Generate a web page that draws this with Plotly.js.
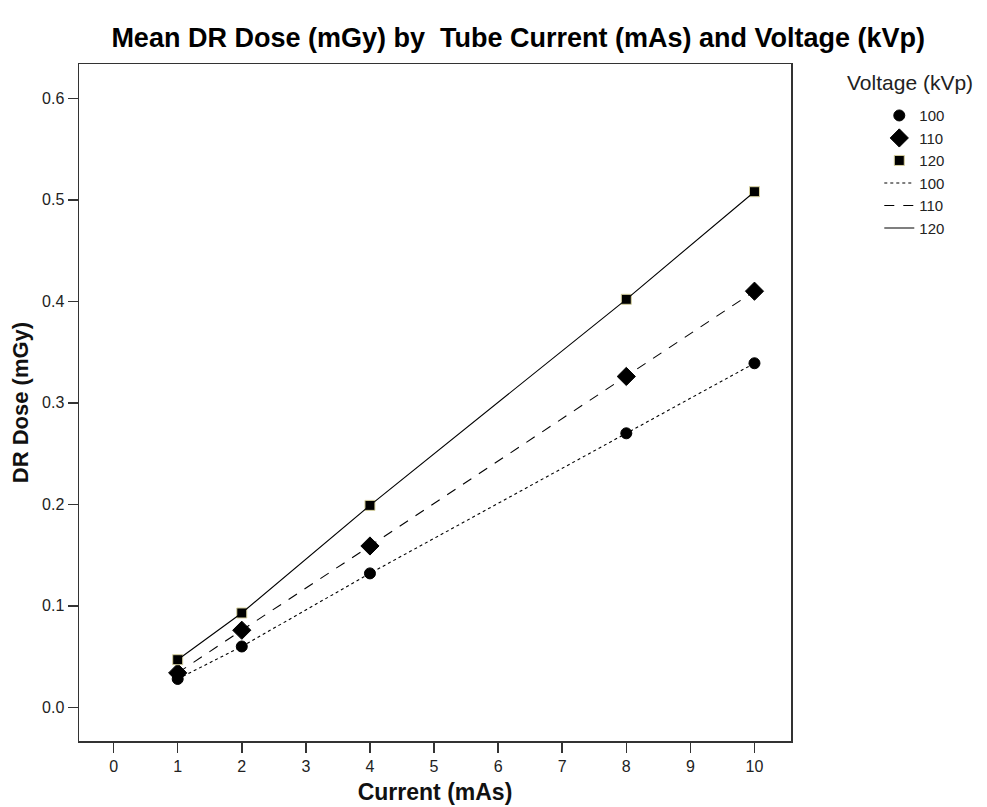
<!DOCTYPE html>
<html>
<head>
<meta charset="utf-8">
<script src="https://cdn.plot.ly/plotly-3.0.1.min.js"></script>
<style>html,body{margin:0;padding:0;background:#fff}#chart{width:987px;height:807px}</style>
</head>
<body>
<div id="chart"></div>
<script>
// Data
var currentMAs = [1, 2, 4, 8, 10];
var dose100 = [0.028, 0.060, 0.132, 0.270, 0.339];
var dose110 = [0.034, 0.076, 0.159, 0.326, 0.410];
var dose120 = [0.047, 0.093, 0.199, 0.402, 0.508];
var voltageLabels = ['100', '110', '120'];
var xTickVals = [0, 1, 2, 3, 4, 5, 6, 7, 8, 9, 10];
var yTickVals = [0.0, 0.1, 0.2, 0.3, 0.4, 0.5, 0.6];

var FONT = 'Liberation Sans, Arial, sans-serif';
var series = [dose100, dose110, dose120];
var symbols = ['circle', 'diamond', 'square'];
var msizes = [11, 14, 10];
var dashes = ['3px,3px', '10px,9px', 'solid'];

var traces = [];
for (var i = 0; i < 3; i++) {
  traces.push({
    x: currentMAs, y: series[i], type: 'scatter', mode: 'markers',
    name: voltageLabels[i], legendgroup: 'm' + i,
    marker: {symbol: symbols[i], size: msizes[i], color: '#000',
      line: {color: i === 2 ? '#d8d2a0' : '#000', width: 1}},
    hoverinfo: 'x+y'
  });
}
for (var j = 0; j < 3; j++) {
  traces.push({
    x: currentMAs, y: series[j], type: 'scatter', mode: 'lines',
    name: voltageLabels[j], legendgroup: 'l' + j,
    line: {color: '#000', width: 1.1, dash: dashes[j]},
    hoverinfo: 'skip'
  });
}

var axisCommon = {
  showgrid: false, zeroline: false, showline: true, mirror: true,
  linecolor: '#333', linewidth: 1.5, ticks: 'outside', ticklen: 10,
  tickwidth: 1.5, tickcolor: '#333',
  tickfont: {family: FONT, size: 16, color: '#222'}
};

var layout = {
  width: 987, height: 807,
  paper_bgcolor: '#fff', plot_bgcolor: '#fff',
  margin: {l: 79, r: 196, t: 64, b: 66},
  title: {text: '<b>Mean DR Dose (mGy) by  Tube Current (mAs) and Voltage (kVp)</b>',
    font: {family: FONT, size: 27, color: '#000'},
    xref: 'container', x: 0.525, xanchor: 'center', yref: 'container', y: 0.953, yanchor: 'middle'},
  xaxis: Object.assign({}, axisCommon, {
    range: [-0.54, 10.57], tickmode: 'array', tickvals: xTickVals,
    title: {text: '<b>Current (mAs)</b>', font: {family: FONT, size: 23, color: '#111'}, standoff: 10}
  }),
  yaxis: Object.assign({}, axisCommon, {
    range: [-0.0331, 0.6338], tickmode: 'array', tickvals: yTickVals,
    tickformat: '.1f',
    title: {text: '<b>DR Dose (mGy)</b>', font: {family: FONT, size: 22, color: '#111'}, standoff: 7}
  }),
  showlegend: true,
  legend: {x: 1.124, xanchor: 'left', y: 0.948, yanchor: 'top',
    font: {family: FONT, size: 15, color: '#222'}, tracegroupgap: 0,
    bgcolor: 'rgba(0,0,0,0)', borderwidth: 0},
  annotations: [{text: 'Voltage (kVp)', xref: 'paper', yref: 'paper',
    x: (845 - 79) / 712, xanchor: 'left', y: (741.3 - 83) / 677.3, yanchor: 'middle',
    showarrow: false, font: {family: FONT, size: 21, color: '#222'}}]
};

Plotly.newPlot('chart', traces, layout, {displayModeBar: false, staticPlot: true});
</script>
</body>
</html>
